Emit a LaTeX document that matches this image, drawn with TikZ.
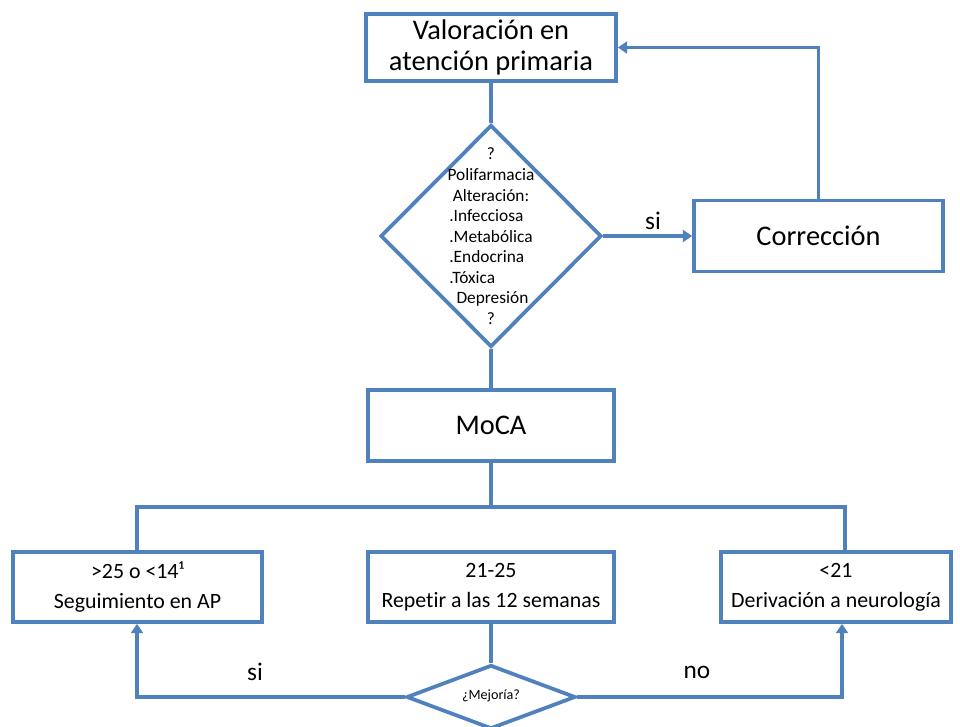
\documentclass[tikz,border=0pt]{standalone}
\usepackage{fontspec}
\setmainfont{Carlito}[Ligatures=NoCommon]
\usetikzlibrary{shapes.geometric,arrows.meta}
\definecolor{lineblue}{HTML}{4F81BD}
\tikzset{
  flow/.style={draw=lineblue, line width=2.8pt, line join=miter},
  boxnode/.style={flow, fill=white, rectangle, inner sep=0pt, align=center},
  dia/.style={flow, fill=white, diamond, inner sep=0pt},
  conn/.style={draw=lineblue, line width=2.8pt, line join=miter},
  arr/.style={conn, -{Triangle[length=7pt,width=9pt]}},
  big/.style={font=\fontsize{21.3}{23.5}\selectfont},
  mid/.style={font=\fontsize{16.4}{22.5}\selectfont},
  lab/.style={font=\fontsize{19}{22}\selectfont}
}
\begin{document}
\begin{tikzpicture}[x=0.75pt,y=-0.75pt]
\useasboundingbox (0,0) rectangle (960,727);
\begin{scope}
\clip (0,0) rectangle (960,727);
% nodes
\node[boxnode, big, minimum width=250*0.75pt, minimum height=67*0.75pt] (val) at (491,47.5) {Valoración en\\atención primaria};
\node[dia, minimum width=221*0.75pt, minimum height=222*0.75pt] (d1) at (491,236) {};
\node[font=\fontsize{13}{15.4}\selectfont, inner sep=0pt] (d1t) at (491,238) {\begin{tabular}{@{}c@{}}?\\Polifarmacia\\Alteración:\\\begin{tabular}{@{}l@{}}.Infecciosa\\.Metabólica\\.Endocrina\\.Tóxica\end{tabular}\\ \,Depresión\\?\end{tabular}};
\node[boxnode, big, minimum width=249*0.75pt, minimum height=71*0.75pt] (corr) at (818.5,236) {Corrección};
\node[boxnode, big, minimum width=246*0.75pt, minimum height=71*0.75pt] (moca) at (491,425.5) {MoCA};
\node[boxnode, mid, minimum width=249*0.75pt, minimum height=70*0.75pt] (left) at (137.5,587) {>25 o <14¹\\Seguimiento en AP};
\node[boxnode, mid, minimum width=246*0.75pt, minimum height=70*0.75pt] (midb) at (491,587) {21-25\\Repetir a las 12 semanas};
\node[boxnode, mid, minimum width=230*0.75pt, minimum height=70*0.75pt] (right) at (836,587) {<21\\Derivación a neurología};
\node[dia, minimum width=169*0.75pt, minimum height=64*0.75pt] (d2) at (491,697) {};
\node[font=\fontsize{10.6}{12}\selectfont] (d2t) at (491,696) {¿Mejoría?};
% labels
\node[lab] (lsi1) at (653,221) {si};
\node[lab] (lsi2) at (255,672) {si};
\node[lab] (lno) at (697,672) {no};
% coordinates
\coordinate (jl) at (137,507);
\coordinate (jr) at (845,507);
\coordinate (ra) at (842,0);
% connectors
\draw[conn] (val.south) -- (d1.north);
\draw[arr] (d1.east) -- (corr.west);
\draw[arr] (corr.north) |- (val.east);
\draw[conn] (d1.south) -- (moca.north);
\draw[conn] (moca.south) -- (moca.south |- jl);
\draw[conn] (jl |- left.north) -- (jl) -- (jr) -- (jr |- right.north);
\draw[conn] (midb.south) -- (d2.north);
\draw[arr] (d2.west) -| (jl |- left.south);
\draw[arr] (d2.east) -| (ra |- right.south);
\end{scope}
\end{tikzpicture}
\end{document}
